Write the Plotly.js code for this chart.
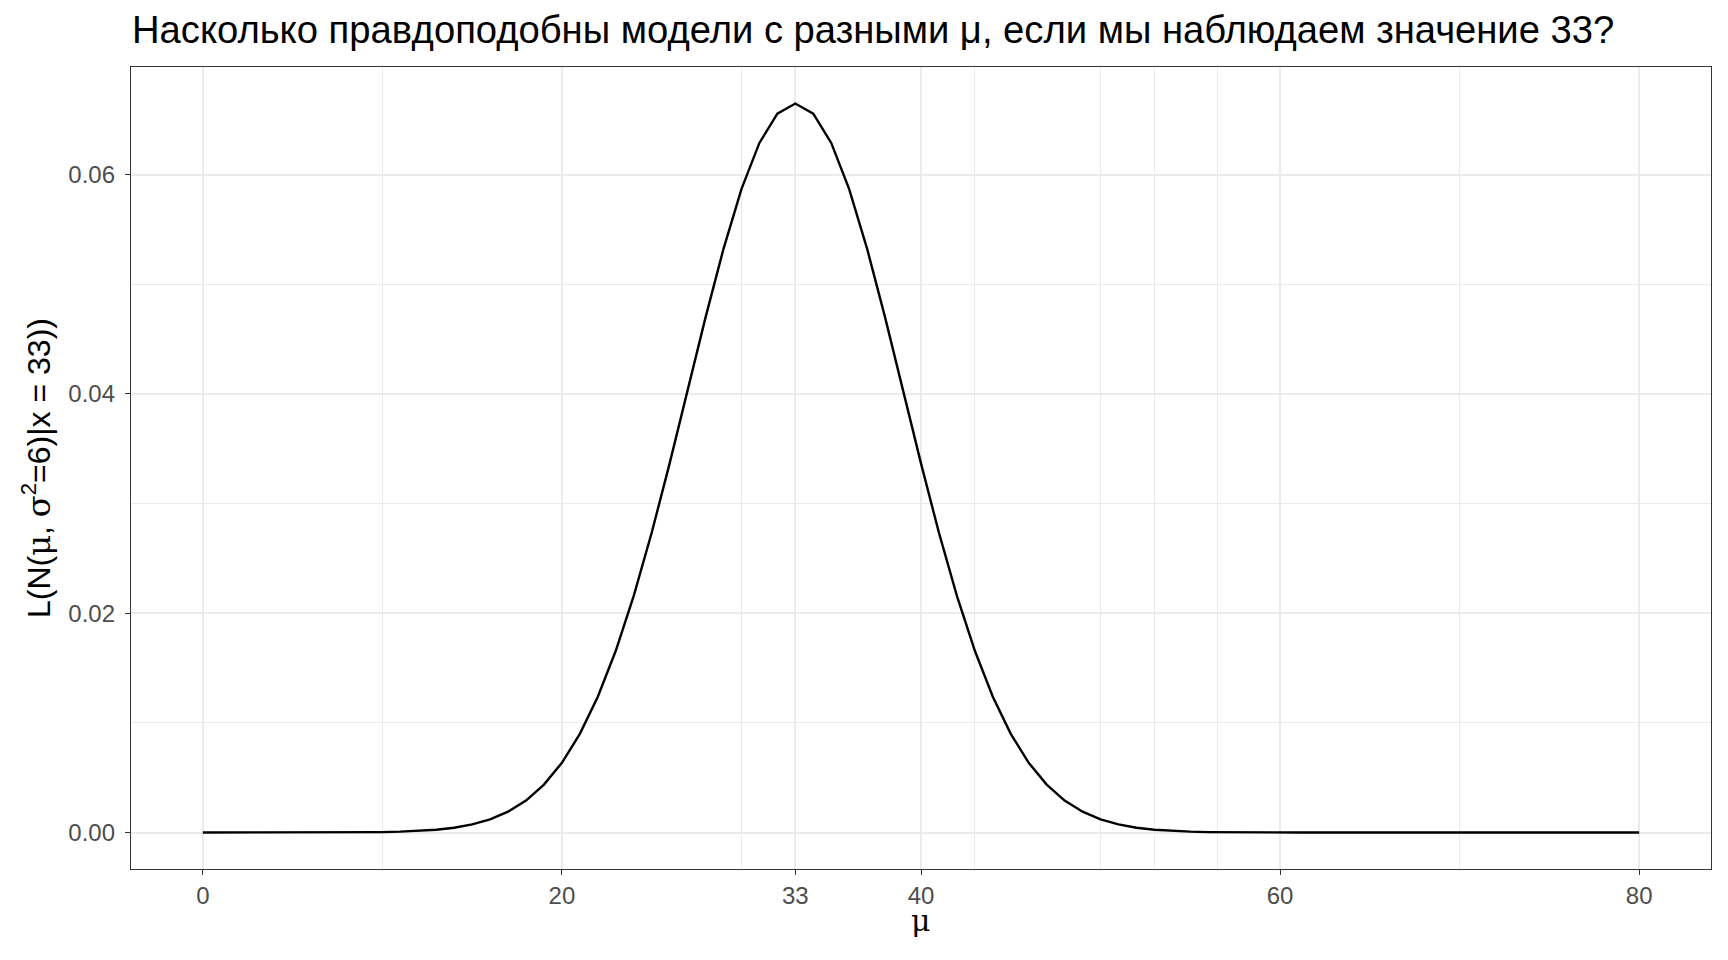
<!DOCTYPE html>
<html>
<head>
<meta charset="utf-8">
<script src="https://cdn.plot.ly/plotly-3.0.1.min.js"></script>
<style>html,body{margin:0;padding:0;background:#fff;}#chart{width:1728px;height:960px;}</style>
</head>
<body>
<div id="chart"></div>
<script>
// μ values (model means)
const mu = [0,1,2,3,4,5,6,7,8,9,10,11,12,13,14,15,16,17,18,19,20,
  21,22,23,24,25,26,27,28,29,30,31,32,33,34,35,36,37,38,39,40,
  41,42,43,44,45,46,47,48,49,50,51,52,53,54,55,56,57,58,59,60,
  61,62,63,64,65,66,67,68,69,70,71,72,73,74,75,76,77,78,79,80];
// likelihood values
const likelihood = [0,0,0,0,0,0,0,0.00001,0.00001,0.00002,0.00004,
  0.00008,0.00015,0.00026,0.00044,0.00074,0.00120,0.00190,0.00292,0.00437,0.00636,
  0.00900,0.01239,0.01658,0.02159,0.02734,0.03367,0.04033,0.04699,0.05324,0.05868,
  0.06290,0.06557,0.06649,0.06557,0.06290,0.05868,0.05324,0.04699,0.04033,0.03367,
  0.02734,0.02159,0.01658,0.01239,0.00900,0.00636,0.00437,0.00292,0.00190,0.00120,
  0.00074,0.00044,0.00026,0.00015,0.00008,0.00004,0.00002,0.00001,0.00001,0,
  0,0,0,0,0,0,0,0,0,0,0,0,0,0,0,0,0,0,0,0];
const xTicks = [0,20,33,40,60,80];
const xTickLabels = ['0','20','33','40','60','80'];
const xMinor = [10,30,43,50,53,56.5,70];
const yTicks = [0,0.02,0.04,0.06];
const yTickLabels = ['0.00','0.02','0.04','0.06'];
const yMinor = [0.01,0.03,0.05];

const titleText = 'Насколько правдоподобны модели с разными μ, если мы наблюдаем значение 33?';
const yTitle = 'L(N(<span style="font-family:\'DejaVu Serif\'">μ</span>, <span style="font-family:\'DejaVu Serif\'">σ</span><sup>2</sup>=6)|x = 33))';
const xTitle = '<span style="font-family:\'DejaVu Serif\'">μ</span>';

const font = '"Liberation Sans", Arial, Helvetica, sans-serif';

const trace = {
  x: mu, y: likelihood, type: 'scatter', mode: 'lines',
  line: {color: '#000000', width: 2.4}, hoverinfo: 'x+y'
};

const axisCommon = {
  showline: true, mirror: true, linecolor: '#333333', linewidth: 1.3,
  ticks: 'outside', ticklen: 5, tickwidth: 1.3, tickcolor: '#333333',
  tickfont: {family: font, size: 24, color: '#4D4D4D'},
  showgrid: true, gridcolor: '#EBEBEB', gridwidth: 2, zeroline: false
};

const layout = {
  width: 1728, height: 960, autosize: false,
  paper_bgcolor: '#ffffff', plot_bgcolor: '#ffffff',
  margin: {l: 131, r: 17, t: 67, b: 91, pad: 0},
  showlegend: false,
  font: {family: font},
  title: {
    text: titleText, font: {family: font, size: 38.2, color: '#000000'},
    xref: 'container', x: 132/1728, xanchor: 'left',
    yref: 'container', y: 1 - 30/960, yanchor: 'middle'
  },
  xaxis: Object.assign({}, axisCommon, {
    range: [-4, 84], tickmode: 'array', tickvals: xTicks, ticktext: xTickLabels,
    minor: {tickmode: 'array', tickvals: xMinor, showgrid: true, gridcolor: '#EBEBEB', gridwidth: 1, ticks: ''}
  }),
  yaxis: Object.assign({}, axisCommon, {
    range: [-0.003325, 0.069825], tickmode: 'array', tickvals: yTicks, ticktext: yTickLabels,
    ticklabelstandoff: 5,
    minor: {tickmode: 'array', tickvals: yMinor, showgrid: true, gridcolor: '#EBEBEB', gridwidth: 1, ticks: ''},
    title: {text: yTitle, font: {family: font, size: 32, color: '#000000'}, standoff: 8}
  }),
  annotations: [{
    text: xTitle, xref: 'paper', yref: 'paper', x: 0.5, y: -0.064,
    xanchor: 'center', yanchor: 'middle', showarrow: false, borderpad: 0,
    font: {family: font, size: 30, color: '#000000'}
  }]
};

Plotly.newPlot('chart', [trace], layout, {displayModeBar: false, responsive: false});
</script>
</body>
</html>
